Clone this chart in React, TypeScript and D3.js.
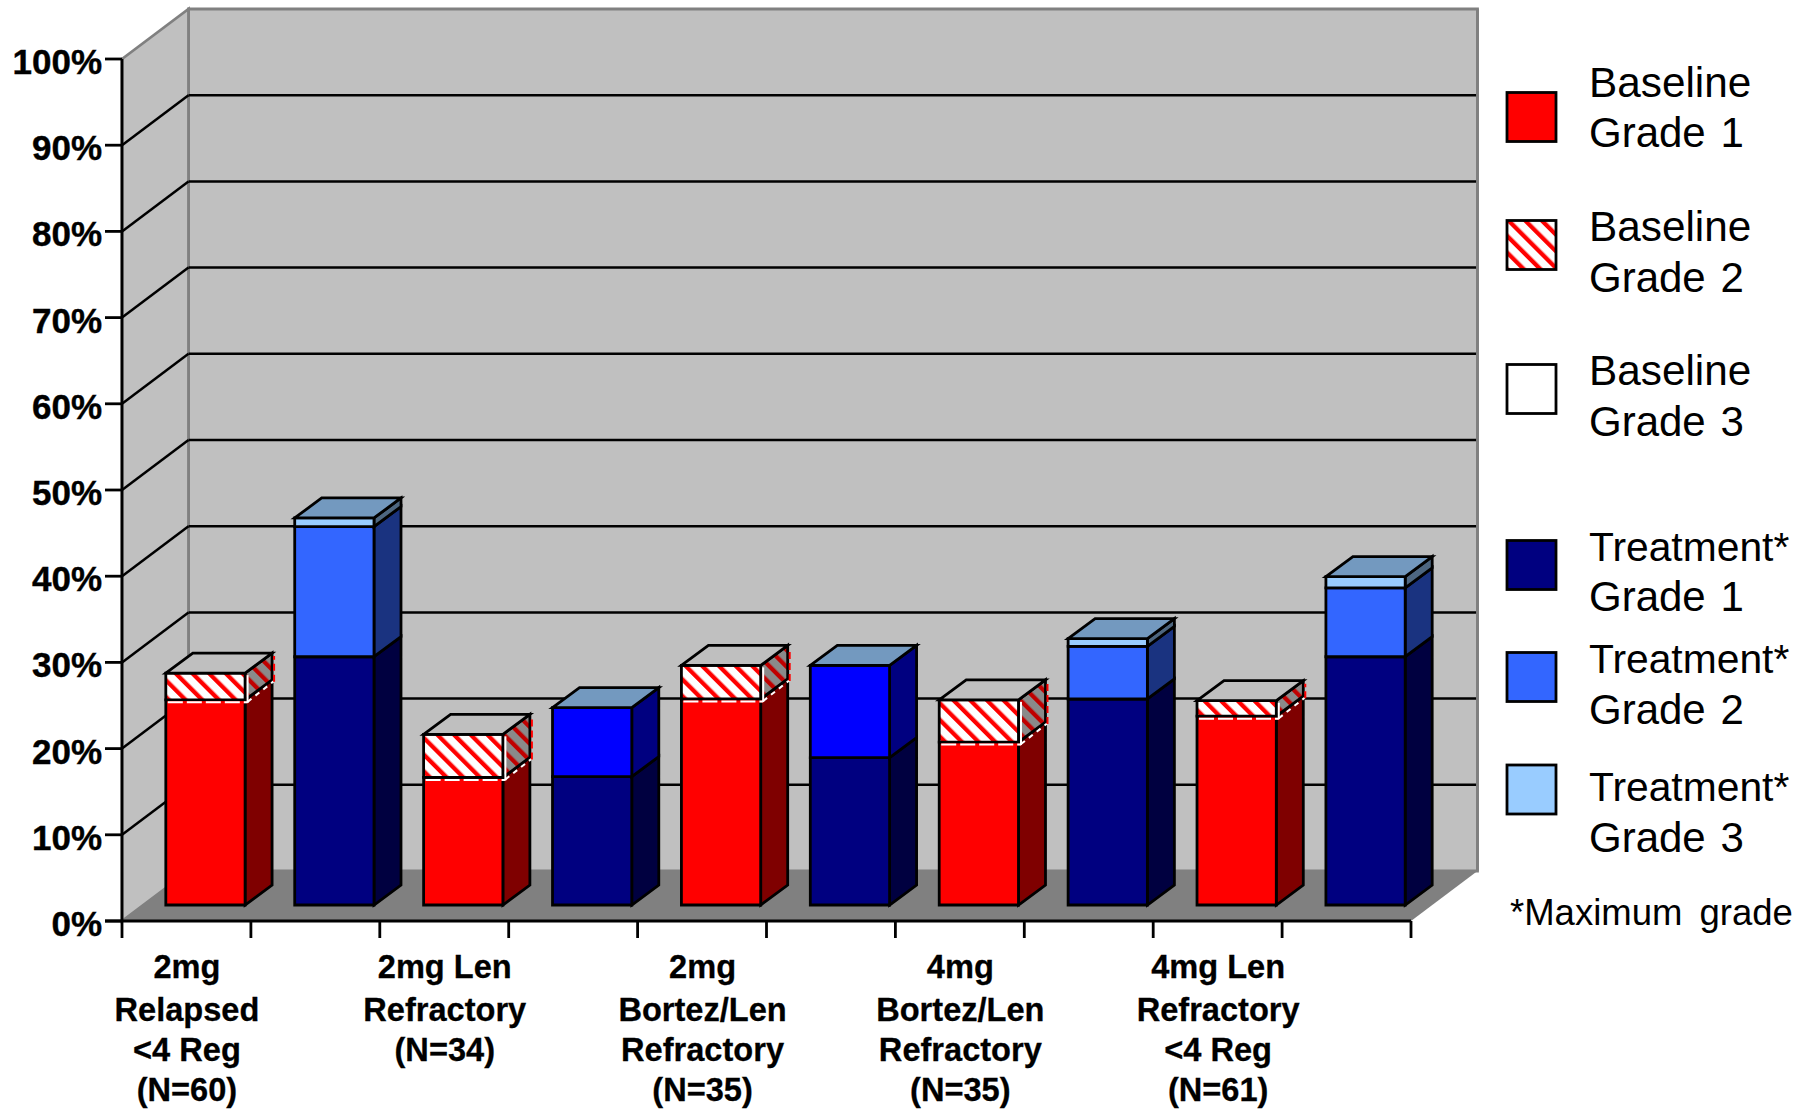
import React from "react";
import * as d3 from "d3";

// Share of patients (%) per bar, alternating baseline / on-treatment within each cohort.
const cohorts = [
  ["2mg", "Relapsed", "<4 Reg", "(N=60)"],
  ["2mg Len", "Refractory", "(N=34)"],
  ["2mg", "Bortez/Len", "Refractory", "(N=35)"],
  ["4mg", "Bortez/Len", "Refractory", "(N=35)"],
  ["4mg Len", "Refractory", "<4 Reg", "(N=61)"],
];
const grade1Values = [23.8, 28.8, 14.8, 14.9, 23.9, 17.1, 18.9, 23.9, 21.9, 28.8];
const grade2Values = [3.1, 15.1, 5, 8, 3.9, 10.7, 4.9, 6.1, 1.8, 8];
const grade3Values = [0, 1, 0, 0, 0, 0, 0, 0.9, 0, 1.3];
const saturatedGrade2Bars = [3, 5];
const yTicks = [0, 10, 20, 30, 40, 50, 60, 70, 80, 90, 100];

const legendEntries = [
  { lines: ["Baseline", "Grade 1"], key: "base1", box: 92.5, base: [97, 147], size: 42.3 },
  { lines: ["Baseline", "Grade 2"], key: "base2", box: 220.5, base: [241, 292], size: 42.3 },
  { lines: ["Baseline", "Grade 3"], key: "base3", box: 364.5, base: [385, 436], size: 42.3 },
  { lines: ["Treatment*", "Grade 1"], key: "treat1", box: 540.5, base: [561, 611], size: 40.8 },
  { lines: ["Treatment*", "Grade 2"], key: "treat2", box: 652.5, base: [673, 724], size: 40.8 },
  { lines: ["Treatment*", "Grade 3"], key: "treat3", box: 765, base: [801, 852], size: 40.8 },
];

const W = 1816;
const H = 1109;
const FRONT_LEFT = 122;
const FRONT_RIGHT = 1411;
const FLOOR_Y = 921;
const DEPTH_X = 66.5;
const DEPTH_Y = 50;
const BAR_BASE = 905;
const BAR_DX = 27;
const BAR_DY = 20;
const BAR_SHIFT = 19;
const LINE = 2.8;

const yFront = d3.scaleLinear().domain([0, 100]).range([FLOOR_Y, 59]);
const barHeight = d3.scaleLinear().domain([0, 100]).range([0, FLOOR_Y - 59]);
const xSlots = d3.scaleBand<number>()
  .domain(d3.range(grade1Values.length))
  .range([FRONT_LEFT, FRONT_RIGHT])
  .paddingInner(0.385)
  .paddingOuter(0.1925);
const step = xSlots.step();

const poly = (pts: [number, number][]) => d3.line()(pts)! + "Z";

const fills: Record<string, { front: string; side: string }> = {
  base1: { front: "#ff0000", side: "#7f0000" },
  base2: { front: "url(#hatchFront)", side: "url(#hatchSide)" },
  base3: { front: "#ffffff", side: "#808080" },
  treat1: { front: "#000080", side: "#000040" },
  treat2: { front: "#3366ff", side: "#1a3380" },
  treat2Strong: { front: "#0000ff", side: "#000080" },
  treat3: { front: "#99ccff", side: "#4d6680" },
};

function Segment({ x, w, y0, y1, fill }: { x: number; w: number; y0: number; y1: number; fill: string }) {
  const f = fills[fill];
  const front = poly([[x, y0], [x + w, y0], [x + w, y1], [x, y1]]);
  const side = poly([
    [x + w, y0],
    [x + w + BAR_DX, y0 - BAR_DY],
    [x + w + BAR_DX, y1 - BAR_DY],
    [x + w, y1],
  ]);
  return (
    <g stroke="#000" strokeWidth={LINE} strokeLinejoin="miter">
      <path d={side} fill={f.side} />
      <path d={front} fill={f.front} />
    </g>
  );
}

// The hatched segments carry a broken white and red edge just outside their outline.
function HatchEdge({ x, w, y0, y1 }: { x: number; w: number; y0: number; y1: number }) {
  const r = x + w + 2.5;
  return (
    <g fill="none" strokeWidth={2}>
      <path d={`M${x + 2},${y0 + 2.5}H${r}`} stroke="#ff0000" />
      <path d={`M${x + 2},${y0 + 2.5}H${r}`} stroke="#ffffff" strokeDasharray="15 4" />
      <path d={`M${r},${y0 + 3}V${y1 + 2}`} stroke="#ffffff" />
      <path d={`M${r},${y0 + 2}L${x + w + BAR_DX + 1.5},${y0 - BAR_DY + 1.5}`} stroke="#ffffff" strokeDasharray="5 5" />
      <path d={`M${x + w + BAR_DX + 2},${y0 - BAR_DY + 2}V${y1 - BAR_DY + 3}`} stroke="#ff0000" strokeDasharray="7 4" />
    </g>
  );
}

function Bar({ i }: { i: number }) {
  const isTreatment = i % 2 === 1;
  const x = xSlots(i)! + BAR_SHIFT;
  const w = xSlots.bandwidth();
  const stacked = [grade1Values[i], grade2Values[i], grade3Values[i]];
  const tops = d3.cumsum(stacked);
  const yAt = (v: number) => BAR_BASE - barHeight(v);
  const grade2Fill = isTreatment
    ? saturatedGrade2Bars.includes(i) ? "treat2Strong" : "treat2"
    : "base2";
  const names = [isTreatment ? "treat1" : "base1", grade2Fill, "treat3"];
  const total = tops[2];
  const yTop = yAt(total);
  const roof = poly([
    [x, yTop],
    [x + w, yTop],
    [x + w + BAR_DX, yTop - BAR_DY],
    [x + BAR_DX, yTop - BAR_DY],
  ]);
  return (
    <g>
      {stacked.map((v, s) =>
        v > 0 ? (
          <Segment key={s} x={x} w={w} y0={yAt(s === 0 ? 0 : tops[s - 1])} y1={yAt(tops[s])} fill={names[s]} />
        ) : null
      )}
      {!isTreatment && <HatchEdge x={x} w={w} y0={yAt(tops[0])} y1={yAt(tops[1])} />}
      <path d={roof} fill={isTreatment ? "#7399bf" : "#bfbfbf"} stroke="#000" strokeWidth={LINE} />
    </g>
  );
}

export default function App() {
  const backX0 = FRONT_LEFT + DEPTH_X;
  const backX1 = FRONT_RIGHT + DEPTH_X;
  const slotIndexes = d3.range(grade1Values.length + 1);
  const sans = "'Liberation Sans', Arial, sans-serif";
  return (
    <svg
      width={W}
      height={H}
      viewBox={`0 0 ${W} ${H}`}
      style={{ position: "absolute", left: 0, top: 0, background: "#fff", display: "block" }}
      fontFamily={sans}
    >
      <defs>
        <pattern id="hatchFront" patternUnits="userSpaceOnUse" width={11.8} height={11.8} patternTransform="rotate(-45)">
          <rect width={11.8} height={11.8} fill="#fff" />
          <rect width={4.3} height={11.8} fill="#ff0000" />
        </pattern>
        <pattern id="hatchSide" patternUnits="userSpaceOnUse" width={11.8} height={11.8} patternTransform="rotate(-45)">
          <rect width={11.8} height={11.8} fill="#8a8a8a" />
          <rect width={4.3} height={11.8} fill="#c00000" />
        </pattern>
      </defs>

      {/* Walls and floor of the 3-D box */}
      <path
        d={poly([[backX0, 9], [backX1, 9], [backX1, FLOOR_Y - DEPTH_Y], [backX0, FLOOR_Y - DEPTH_Y]])}
        fill="#c0c0c0"
        stroke="#808080"
        strokeWidth={2.8}
      />
      <path
        d={poly([[FRONT_LEFT, 59], [backX0, 9], [backX0, FLOOR_Y - DEPTH_Y], [FRONT_LEFT, FLOOR_Y]])}
        fill="#c0c0c0"
        stroke="#808080"
        strokeWidth={2.8}
      />
      <path
        d={poly([[FRONT_LEFT, FLOOR_Y], [FRONT_RIGHT, FLOOR_Y], [backX1, FLOOR_Y - DEPTH_Y], [backX0, FLOOR_Y - DEPTH_Y]])}
        fill="#808080"
      />

      {/* Gridlines on both walls */}
      {yTicks.filter((t) => t > 0 && t < 100).map((t) => {
        const y = yFront(t);
        return (
          <g key={t} stroke="#000" strokeWidth={2.5} fill="none">
            <path d={`M${FRONT_LEFT},${y}L${backX0},${y - DEPTH_Y}`} />
            <path d={`M${backX0},${y - DEPTH_Y}H${backX1 - 1}`} />
          </g>
        );
      })}
      <path d={`M${backX1},9V${FLOOR_Y - DEPTH_Y}`} stroke="#808080" strokeWidth={2.8} />

      {/* Value axis */}
      <path d={`M${FRONT_LEFT},${yFront(100)}V${FLOOR_Y}`} stroke="#000" strokeWidth={LINE} />
      {yTicks.map((t) => (
        <g key={t}>
          <path d={`M${FRONT_LEFT - 17},${yFront(t)}H${FRONT_LEFT}`} stroke="#000" strokeWidth={LINE} />
          <text x={102} y={yFront(t) + 15} textAnchor="end" fontWeight={700} fontSize={35} fill="#000" stroke="#000" strokeWidth={0.4}>
            {t}%
          </text>
        </g>
      ))}

      {/* Category axis */}
      <path d={`M${FRONT_LEFT - 17},${FLOOR_Y}H${FRONT_RIGHT}`} stroke="#000" strokeWidth={3} />
      {slotIndexes.map((i) => (
        <path
          key={i}
          d={`M${FRONT_LEFT + i * step},${FLOOR_Y}V${FLOOR_Y + 17}`}
          stroke="#000"
          strokeWidth={LINE}
        />
      ))}
      {cohorts.map((lines, c) => {
        const cx = FRONT_LEFT + (c * 2 + 0.5) * step + 0.5;
        const lineY = [977.5, 1020.5, 1060.5, 1100.5];
        return (
          <text key={c} textAnchor="middle" fontWeight={700} fontSize={32.6} fill="#000" stroke="#000" strokeWidth={0.3}>
            {lines.map((l, k) => (
              <tspan key={k} x={cx} y={lineY[k]}>
                {l}
              </tspan>
            ))}
          </text>
        );
      })}

      {/* Stacked bars */}
      {grade1Values.map((_, i) => (
        <Bar key={i} i={i} />
      ))}

      {/* Legend */}
      {legendEntries.map((e) => (
        <g key={e.key}>
          <rect
            x={1507}
            y={e.box}
            width={49}
            height={49}
            fill={fills[e.key].front}
            stroke="#000"
            strokeWidth={LINE}
          />
          {e.lines.map((l, k) => (
            <text key={k} x={1589} y={e.base[k]} fontSize={k === 0 ? e.size : 42} fill="#000" wordSpacing={3}>
              {l}
            </text>
          ))}
        </g>
      ))}
      <text x={1510} y={925} fontSize={36.5} fill="#000" wordSpacing={7}>
        *Maximum grade
      </text>
    </svg>
  );
}
